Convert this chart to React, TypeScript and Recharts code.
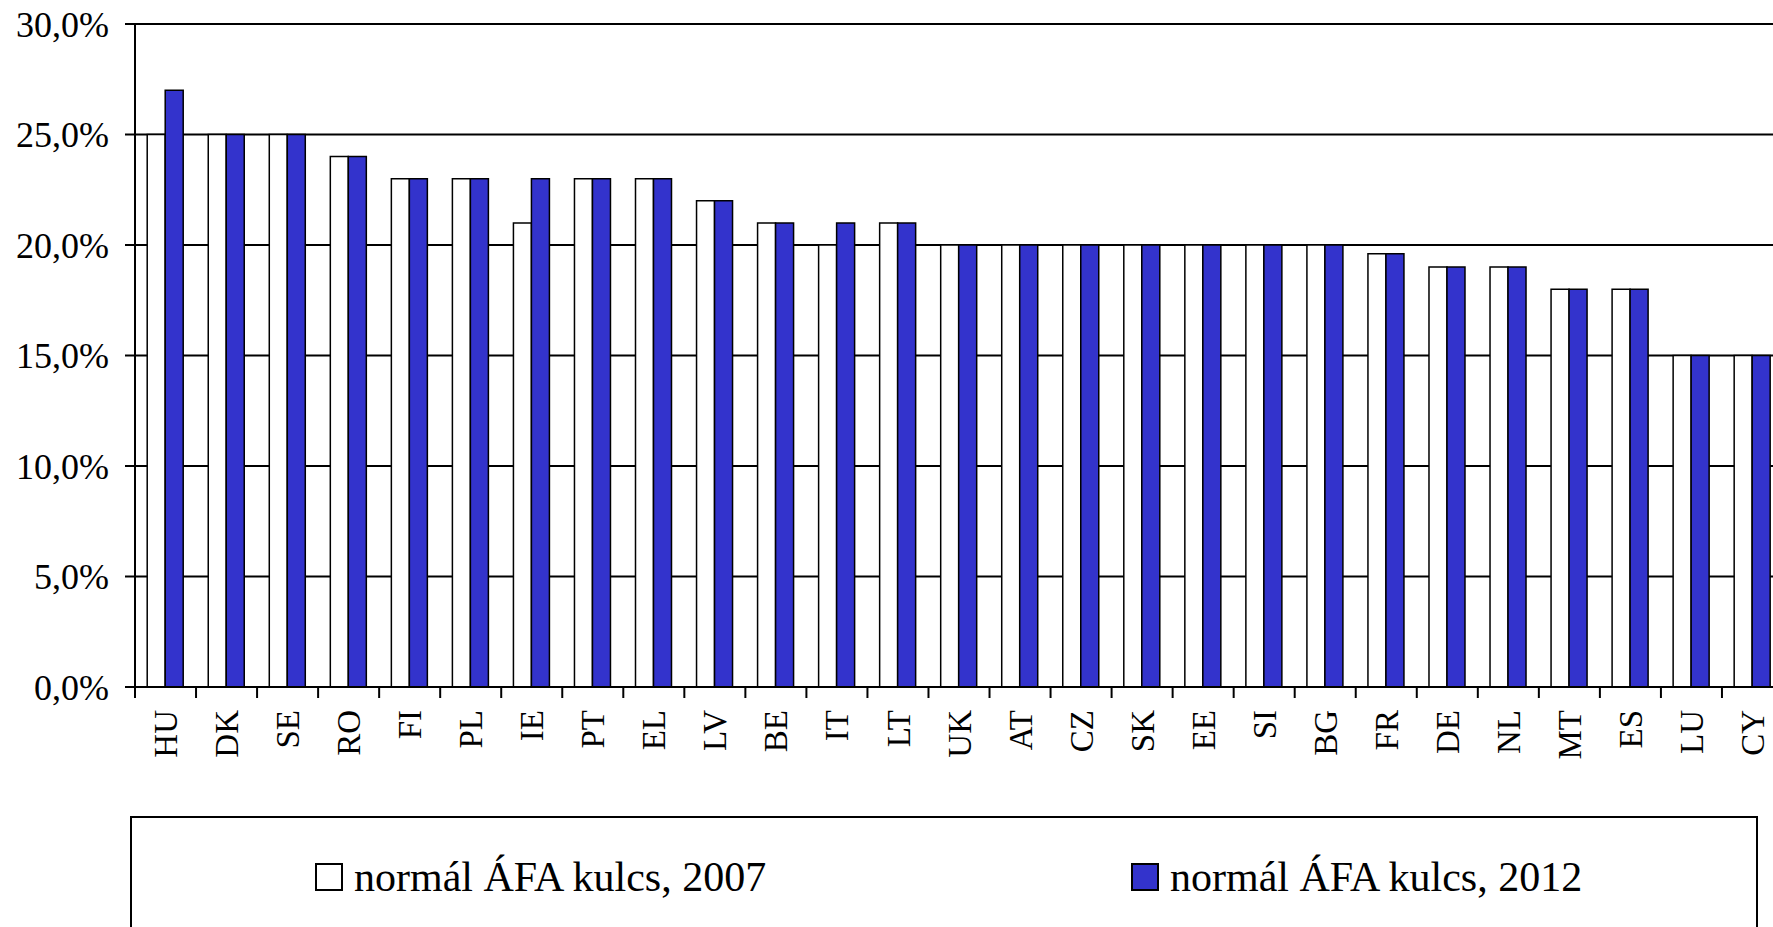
import { BarChart, Bar, XAxis, YAxis, CartesianGrid, Legend } from 'recharts';

const countries = ['HU', 'DK', 'SE', 'RO', 'FI', 'PL', 'IE', 'PT', 'EL', 'LV', 'BE', 'IT', 'LT', 'UK', 'AT', 'CZ', 'SK', 'EE', 'SI', 'BG', 'FR', 'DE', 'NL', 'MT', 'ES', 'LU', 'CY'];
const rate2007 = [25, 25, 25, 24, 23, 23, 21, 23, 23, 22, 21, 20, 21, 20, 20, 20, 20, 20, 20, 20, 19.6, 19, 19, 18, 18, 15, 15];
const rate2012 = [27, 25, 25, 24, 23, 23, 23, 23, 23, 22, 21, 21, 21, 20, 20, 20, 20, 20, 20, 20, 19.6, 19, 19, 18, 18, 15, 15];
const yTicks = [0, 5, 10, 15, 20, 25, 30];

const name2007 = 'normál ÁFA kulcs, 2007';
const name2012 = 'normál ÁFA kulcs, 2012';

const data = countries.map((c, i) => ({ country: c, y2007: rate2007[i], y2012: rate2012[i] }));

const FONT = "'Liberation Serif', 'Times New Roman', serif";
const CHART_W = 1800;
const CHART_H = 927;
const Y_AXIS_W = 135;
const MARGIN = { top: 24, right: 17, left: 0, bottom: 120 };
const BAND = (CHART_W - Y_AXIS_W - MARGIN.left - MARGIN.right) / countries.length;

const fmtPct = (v: number) => v.toFixed(1).replace('.', ',') + '%';

// tick marks sit between categories, labels in the middle
const CountryTick = (props: any) => {
  const { x, y, payload } = props;
  const axisY = y - 23;
  return (
    <g>
      <line x1={x - BAND / 2} x2={x - BAND / 2} y1={axisY} y2={axisY + 11} stroke="#000" strokeWidth={2} />
      <text
        x={x}
        y={y}
        dy="0.35em"
        textAnchor="end"
        transform={`rotate(-90, ${x}, ${y})`}
        fontFamily={FONT}
        fontSize={33}
        fill="#000"
      >
        {payload.value}
      </text>
    </g>
  );
};

const LegendBox = (props: any) => {
  const items = props.payload || [];
  const lefts = [183, 999];
  return (
    <div style={{ position: 'relative', width: '100%', height: '100%', border: '2px solid #000', boxSizing: 'border-box' }}>
      {items.map((entry: any, i: number) => (
        <div
          key={entry.value}
          style={{ position: 'absolute', left: lefts[i], top: 35, height: 48, display: 'flex', alignItems: 'center', whiteSpace: 'nowrap' }}
        >
          <span style={{ width: 28, height: 28, boxSizing: 'border-box', border: '2px solid #000', background: entry.color, marginRight: 11 }} />
          <span style={{ fontFamily: FONT, fontSize: 42, lineHeight: '48px', color: '#000' }}>{entry.value}</span>
        </div>
      ))}
    </div>
  );
};

export default function App() {
  return (
    <div style={{ position: 'fixed', left: 0, top: 0, width: 1773, height: 927, overflow: 'hidden', background: '#fff' }}>
      <BarChart width={CHART_W} height={CHART_H} data={data} margin={MARGIN} barCategoryGap="20%" barGap={0}>
        <CartesianGrid vertical={false} stroke="#000" strokeWidth={2} />
        <XAxis
          dataKey="country"
          interval={0}
          height={120}
          tickSize={11}
          tickMargin={12}
          tickLine={false}
          axisLine={{ stroke: '#000', strokeWidth: 2 }}
          tick={<CountryTick />}
        />
        <YAxis
          width={Y_AXIS_W}
          domain={[0, 30]}
          ticks={yTicks}
          tickFormatter={fmtPct}
          tickSize={10}
          tickMargin={16}
          axisLine={{ stroke: '#000', strokeWidth: 2 }}
          tickLine={{ stroke: '#000', strokeWidth: 2 }}
          tick={{ fill: '#000', fontFamily: FONT, fontSize: 36 }}
        />
        <Legend
          layout="horizontal"
          verticalAlign="middle"
          align="center"
          wrapperStyle={{ left: 130, top: 816, width: 1628, height: 140 }}
          content={<LegendBox />}
        />
        <Bar dataKey="y2007" name={name2007} fill="#FFFFFF" stroke="#000" strokeWidth={1.5} isAnimationActive={false} />
        <Bar dataKey="y2012" name={name2012} fill="#3333CC" stroke="#000" strokeWidth={1.5} isAnimationActive={false} />
      </BarChart>
    </div>
  );
}
